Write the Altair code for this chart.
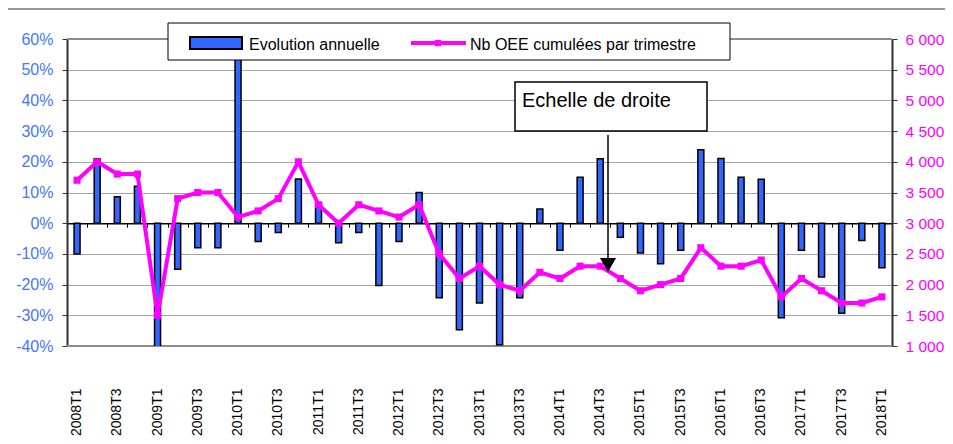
import altair as alt
import pandas as pd

quarters = ["2008T1", "2008T2", "2008T3", "2008T4", "2009T1", "2009T2", "2009T3", "2009T4",
            "2010T1", "2010T2", "2010T3", "2010T4", "2011T1", "2011T2", "2011T3", "2011T4",
            "2012T1", "2012T2", "2012T3", "2012T4", "2013T1", "2013T2", "2013T3", "2013T4",
            "2014T1", "2014T2", "2014T3", "2014T4", "2015T1", "2015T2", "2015T3", "2015T4",
            "2016T1", "2016T2", "2016T3", "2016T4", "2017T1", "2017T2", "2017T3", "2017T4",
            "2018T1"]

# Evolution annuelle (%)
evol = [-10, 21, 8.6, 12, -41, -15, -8, -8,
        65, -6, -3, 14.4, 6.6, -6.4, -3, -20.3,
        -6, 10, -24.3, -34.7, -26, -39.6, -24.3, 4.6,
        -8.8, 15, 21, -4.6, -9.7, -13.2, -8.8, 23.9,
        21.1, 15, 14.3, -30.8, -8.8, -17.5, -29.3, -5.6,
        -14.5]

# Nb OEE cumulées par trimestre
oee = [3700, 4000, 3800, 3800, 1500, 3400, 3500, 3500,
       3100, 3200, 3400, 4000, 3300, 3000, 3300, 3200,
       3100, 3300, 2500, 2100, 2300, 2000, 1900, 2200,
       2100, 2300, 2300, 2100, 1900, 2000, 2100, 2600,
       2300, 2300, 2400, 1800, 2100, 1900, 1700, 1700,
       1800]

left_ticks = [-0.4, -0.3, -0.2, -0.1, 0, 0.1, 0.2, 0.3, 0.4, 0.5, 0.6]
right_ticks = [1000, 1500, 2000, 2500, 3000, 3500, 4000, 4500, 5000, 5500, 6000]
label_quarters = quarters[::2]

legend_bar = "Evolution annuelle"
legend_line = "Nb OEE cumulées par trimestre"
note = "Echelle de droite"

df = pd.DataFrame({"trimestre": quarters, "evol": [v / 100 for v in evol], "oee": oee})
one = pd.DataFrame({"a": [0]})

W, H = 825, 307
FONT = "Liberation Sans"
BLUE = "#3366FF"
MAG = "#FF00FF"

xscale = alt.Scale(paddingInner=0, paddingOuter=0)

frame_top = alt.Chart(one).mark_rule(color="#333333", strokeWidth=1.2).encode(
    x=alt.value(-60), x2=alt.value(880), y=alt.value(-30))

borders = alt.Chart(pd.DataFrame({"yy": [0, H]})).mark_rule(color="#8C8C8C", strokeWidth=2).encode(
    x=alt.value(0), x2=alt.value(W), y=alt.Y("yy:Q", scale=None))

bars = alt.Chart(df).mark_bar(size=6, color=BLUE, stroke="black", strokeWidth=1.5, clip=True).encode(
    x=alt.X("trimestre:N", sort=quarters, scale=xscale,
            axis=alt.Axis(title=None, labels=False, orient="bottom", offset=-H * 0.4,
                          domainColor="black", domainWidth=1.5, tickColor="black",
                          tickSize=4, tickWidth=1, tickBand="extent", grid=False)),
    y=alt.Y("evol:Q", scale=alt.Scale(domain=[-0.4, 0.6], nice=False, zero=False),
            axis=alt.Axis(title=None, orient="left", values=left_ticks,
                          labelExpr="round(datum.value*100) + '%'",
                          labelColor="#4477FF", labelFontSize=16, labelFont=FONT,
                          labelPadding=9, tickSize=5, tickColor="#333333",
                          domainColor="#333333", domainWidth=2,
                          grid=True, gridColor="#A6A6A6", gridWidth=1)),
)

line = alt.Chart(df).mark_line(color=MAG, strokeWidth=4,
                               point=alt.OverlayMarkDef(shape="square", size=50, filled=True, color=MAG)).encode(
    x=alt.X("trimestre:N", sort=quarters, scale=xscale,
            axis=alt.Axis(title=None, orient="bottom", domain=False, ticks=False, grid=False,
                          values=label_quarters, labelAngle=270, labelAlign="right",
                          labelBaseline="middle", labelPadding=42, labelFontSize=14,
                          labelFont=FONT, labelColor="black")),
    y=alt.Y("oee:Q", scale=alt.Scale(domain=[1000, 6000], nice=False, zero=False),
            axis=alt.Axis(title=None, orient="right", values=right_ticks,
                          labelExpr="replace(format(datum.value, ','), ',', ' ')",
                          labelColor=MAG, labelFontSize=15.5, labelFont=FONT,
                          labelPadding=8, tickSize=5, tickColor="#333333",
                          domainColor="#333333", domainWidth=2, grid=False)),
)

leg_box = alt.Chart(one).mark_rect(fill="white", stroke="black", strokeWidth=1).encode(
    x=alt.value(101), x2=alt.value(663), y=alt.value(-16), y2=alt.value(21))
leg_bar = alt.Chart(one).mark_rect(fill=BLUE, stroke="black", strokeWidth=2).encode(
    x=alt.value(123), x2=alt.value(175), y=alt.value(-2), y2=alt.value(10))
leg_t1 = alt.Chart(one).mark_text(align="left", baseline="alphabetic", fontSize=16, font=FONT,
                                  color="black", text=legend_bar).encode(
    x=alt.value(182), y=alt.value(11))
leg_line = alt.Chart(one).mark_rule(color=MAG, strokeWidth=4).encode(
    x=alt.value(344), x2=alt.value(399), y=alt.value(4))
leg_pt = alt.Chart(one).mark_point(shape="square", size=40, filled=True, color=MAG, opacity=1).encode(
    x=alt.value(371), y=alt.value(4))
leg_t2 = alt.Chart(one).mark_text(align="left", baseline="alphabetic", fontSize=16, font=FONT,
                                  color="black", text=legend_line).encode(
    x=alt.value(403), y=alt.value(11))

note_box = alt.Chart(one).mark_rect(fill="white", stroke="black", strokeWidth=1.5).encode(
    x=alt.value(448), x2=alt.value(640), y=alt.value(43), y2=alt.value(92))
note_txt = alt.Chart(one).mark_text(align="left", baseline="alphabetic", fontSize=20, font=FONT,
                                    color="black", text=note).encode(
    x=alt.value(455), y=alt.value(68))
arrow = alt.Chart(one).mark_rule(color="black", strokeWidth=1.5).encode(
    x=alt.value(541), y=alt.value(96), y2=alt.value(222))
head = alt.Chart(one).mark_point(shape="triangle-down", size=260, filled=True, color="black", opacity=1).encode(
    x=alt.value(541), y=alt.value(226))

chart = alt.layer(
    frame_top, borders, bars, line, leg_box, leg_bar, leg_t1, leg_line, leg_pt, leg_t2,
    note_box, note_txt, arrow, head
).resolve_scale(y="independent").resolve_axis(x="independent", y="independent").properties(
    width=W, height=H,
    autosize=alt.AutoSizeParams(type="none"),
    padding={"left": 59, "top": 31, "right": 53, "bottom": 90},
).configure(font=FONT).configure_view(stroke=None)

chart.save("out.html", embed_options={"renderer": "svg", "actions": False})
